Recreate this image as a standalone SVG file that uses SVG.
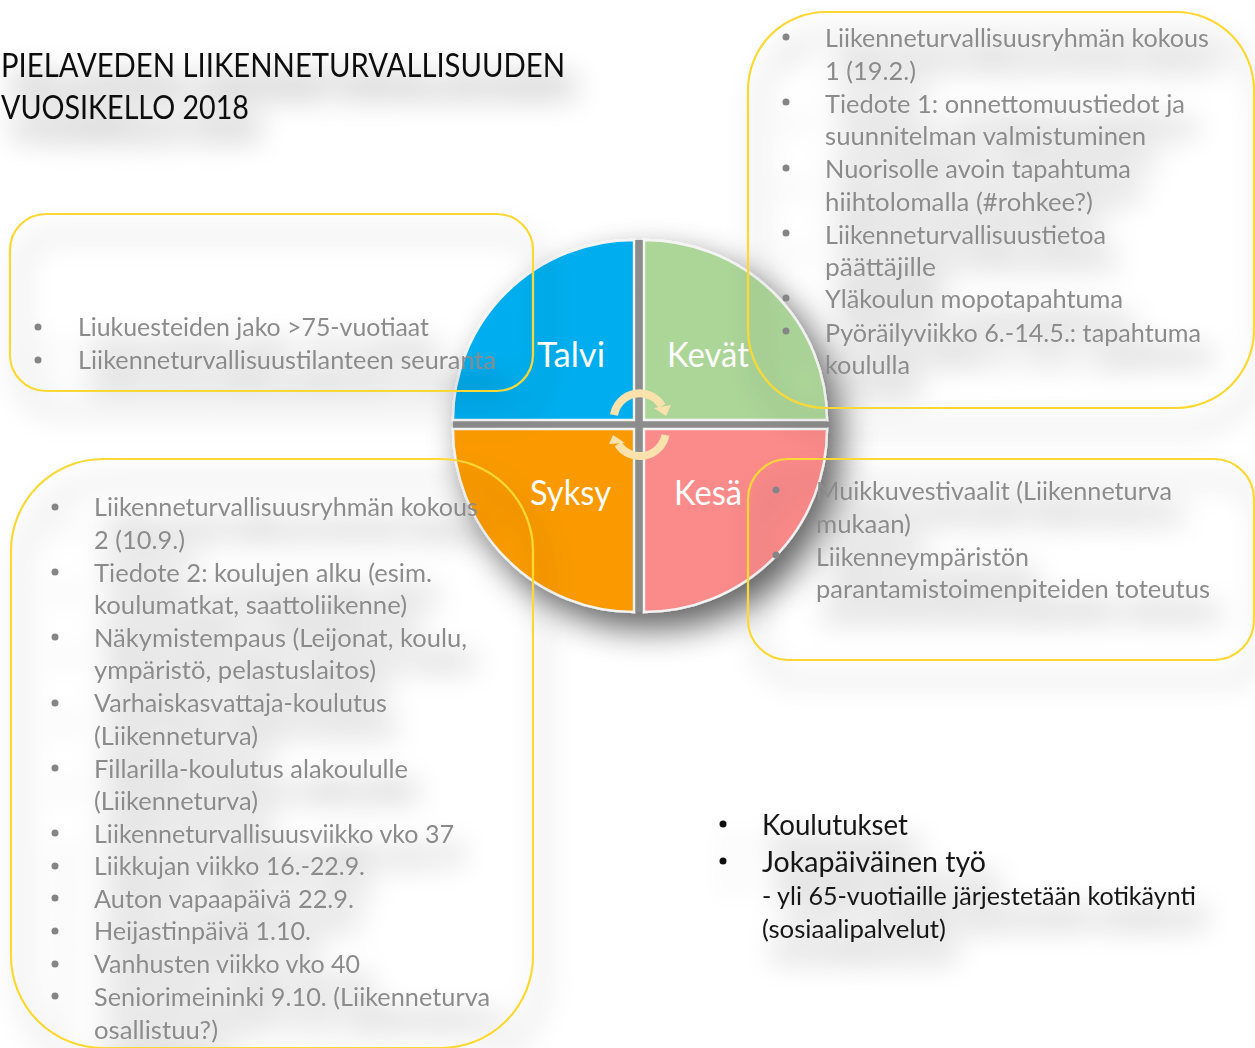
<svg xmlns="http://www.w3.org/2000/svg" width="1255" height="1048" viewBox="0 0 1255 1048">
<style>
text{font-family:"Lato","Liberation Sans",sans-serif}
.t{font-size:25.5px;fill:#8b8b8b}
.d{fill:#858585}
.k{font-size:28px;fill:#161616}
.h{font-size:33.5px;fill:#111}
.s{font-size:34px;fill:#fdfdfd}
.b{fill:none;stroke:#fdd835;stroke-width:2.2}
.q{stroke:#f4f4f4;stroke-width:2.4}
.a{fill:none;stroke:#fbe2ad;stroke-width:8}
.ah{fill:#fbe2ad}
</style>
<defs>
<filter id="ts" filterUnits="userSpaceOnUse" x="-50" y="-50" width="1355" height="1148">
<feGaussianBlur in="SourceAlpha" stdDeviation="15"/>
<feOffset dx="10" dy="21"/>
<feComponentTransfer><feFuncA type="linear" slope="0.55"/></feComponentTransfer>
<feMerge><feMergeNode/><feMergeNode in="SourceGraphic"/></feMerge>
</filter>
<filter id="cs" filterUnits="userSpaceOnUse" x="300" y="100" width="700" height="700">
<feGaussianBlur in="SourceAlpha" stdDeviation="17"/>
<feOffset dx="12" dy="16"/>
<feComponentTransfer><feFuncA type="linear" slope="0.62"/></feComponentTransfer>
<feMerge><feMergeNode/><feMergeNode in="SourceGraphic"/></feMerge>
</filter>
</defs>
<rect width="1255" height="1048" fill="#fff"/>
<g id="wheel" filter="url(#cs)">
<rect x="634" y="240" width="10" height="372" fill="#8c8c8c"/>
<rect x="453" y="420" width="374" height="9" fill="#8c8c8c"/>
<path class="q" fill="#00aeef" d="M634 420V240A181 180 0 0 0 453 420Z"/>
<path class="q" fill="#acd598" d="M644 420V240A183 180 0 0 1 827 420Z"/>
<path class="q" fill="#fa9a00" d="M634 429V612A181 183 0 0 1 453 429Z"/>
<path class="q" fill="#fb8a8a" d="M644 429V612A183 183 0 0 0 827 429Z"/>
</g>
<g id="connectors">
<path class="a" d="M614 415A26 26 0 0 1 662 406"/>
<polygon class="ah" points="671,405 654,408 666,416"/>
<path class="a" d="M665.5 435A26 26 0 0 1 618 444"/>
<polygon class="ah" points="613,435 609,444 625,443"/>
</g>
<g id="title" filter="url(#ts)">
<text class="h" x="1" y="77" textLength="564" lengthAdjust="spacingAndGlyphs">PIELAVEDEN LIIKENNETURVALLISUUDEN</text>
<text class="h" x="1" y="119" textLength="248" lengthAdjust="spacingAndGlyphs">VUOSIKELLO 2018</text>
</g>
<g id="talvi-box" filter="url(#ts)">
<rect class="b" x="10" y="214" width="523" height="177" rx="36"/>
<circle class="d" cx="38" cy="327" r="3.5"/><circle class="d" cx="38" cy="360" r="3.5"/>
<text class="t" x="78" y="336" textLength="351" lengthAdjust="spacingAndGlyphs">Liukuesteiden jako &gt;75-vuotiaat</text>
<text class="t" x="78" y="369" textLength="418" lengthAdjust="spacingAndGlyphs">Liikenneturvallisuustilanteen seuranta</text>
</g>
<g id="kevat-box" filter="url(#ts)">
<rect class="b" x="748" y="12" width="506" height="396" rx="78"/>
<circle class="d" cx="786" cy="37" r="3.5"/><circle class="d" cx="786" cy="102" r="3.5"/><circle class="d" cx="786" cy="168" r="3.5"/><circle class="d" cx="786" cy="233" r="3.5"/><circle class="d" cx="786" cy="298" r="3.5"/><circle class="d" cx="786" cy="331" r="3.5"/>
<text class="t" x="825" y="47" textLength="384" lengthAdjust="spacingAndGlyphs">Liikenneturvallisuusryhmän kokous</text>
<text class="t" x="825" y="80" textLength="91" lengthAdjust="spacingAndGlyphs">1 (19.2.)</text>
<text class="t" x="825" y="113" textLength="360" lengthAdjust="spacingAndGlyphs">Tiedote 1: onnettomuustiedot ja</text>
<text class="t" x="825" y="145" textLength="321" lengthAdjust="spacingAndGlyphs">suunnitelman valmistuminen</text>
<text class="t" x="825" y="178" textLength="306" lengthAdjust="spacingAndGlyphs">Nuorisolle avoin tapahtuma</text>
<text class="t" x="825" y="211" textLength="268" lengthAdjust="spacingAndGlyphs">hiihtolomalla (#rohkee?)</text>
<text class="t" x="825" y="244" textLength="281" lengthAdjust="spacingAndGlyphs">Liikenneturvallisuustietoa</text>
<text class="t" x="825" y="276" textLength="111" lengthAdjust="spacingAndGlyphs">päättäjille</text>
<text class="t" x="825" y="308" textLength="298" lengthAdjust="spacingAndGlyphs">Yläkoulun mopotapahtuma</text>
<text class="t" x="825" y="342" textLength="376" lengthAdjust="spacingAndGlyphs">Pyöräilyviikko 6.-14.5.: tapahtuma</text>
<text class="t" x="825" y="374" textLength="85" lengthAdjust="spacingAndGlyphs">koululla</text>
</g>
<g id="syksy-box" filter="url(#ts)">
<rect class="b" x="11" y="459" width="522" height="589" rx="92"/>
<circle class="d" cx="55" cy="507" r="3.5"/><circle class="d" cx="55" cy="572" r="3.5"/><circle class="d" cx="55" cy="637" r="3.5"/><circle class="d" cx="55" cy="703" r="3.5"/><circle class="d" cx="55" cy="768" r="3.5"/><circle class="d" cx="55" cy="833" r="3.5"/><circle class="d" cx="55" cy="866" r="3.5"/><circle class="d" cx="55" cy="898" r="3.5"/><circle class="d" cx="55" cy="931" r="3.5"/><circle class="d" cx="55" cy="964" r="3.5"/><circle class="d" cx="55" cy="996" r="3.5"/>
<text class="t" x="94" y="516" textLength="384" lengthAdjust="spacingAndGlyphs">Liikenneturvallisuusryhmän kokous</text>
<text class="t" x="94" y="549" textLength="91" lengthAdjust="spacingAndGlyphs">2 (10.9.)</text>
<text class="t" x="94" y="582" textLength="338" lengthAdjust="spacingAndGlyphs">Tiedote 2: koulujen alku (esim.</text>
<text class="t" x="94" y="614" textLength="313" lengthAdjust="spacingAndGlyphs">koulumatkat, saattoliikenne)</text>
<text class="t" x="94" y="647" textLength="373" lengthAdjust="spacingAndGlyphs">Näkymistempaus (Leijonat, koulu,</text>
<text class="t" x="94" y="679" textLength="282" lengthAdjust="spacingAndGlyphs">ympäristö, pelastuslaitos)</text>
<text class="t" x="94" y="712" textLength="293" lengthAdjust="spacingAndGlyphs">Varhaiskasvattaja-koulutus</text>
<text class="t" x="94" y="745" textLength="164" lengthAdjust="spacingAndGlyphs">(Liikenneturva)</text>
<text class="t" x="94" y="778" textLength="314" lengthAdjust="spacingAndGlyphs">Fillarilla-koulutus alakoululle</text>
<text class="t" x="94" y="810" textLength="164" lengthAdjust="spacingAndGlyphs">(Liikenneturva)</text>
<text class="t" x="94" y="843" textLength="360" lengthAdjust="spacingAndGlyphs">Liikenneturvallisuusviikko vko 37</text>
<text class="t" x="94" y="875" textLength="271" lengthAdjust="spacingAndGlyphs">Liikkujan viikko 16.-22.9.</text>
<text class="t" x="94" y="908" textLength="260" lengthAdjust="spacingAndGlyphs">Auton vapaapäivä 22.9.</text>
<text class="t" x="94" y="940" textLength="217" lengthAdjust="spacingAndGlyphs">Heijastinpäivä 1.10.</text>
<text class="t" x="94" y="973" textLength="266" lengthAdjust="spacingAndGlyphs">Vanhusten viikko vko 40</text>
<text class="t" x="94" y="1006" textLength="396" lengthAdjust="spacingAndGlyphs">Seniorimeininki 9.10. (Liikenneturva</text>
<text class="t" x="94" y="1039" textLength="124" lengthAdjust="spacingAndGlyphs">osallistuu?)</text>
</g>
<g id="kesa-box" filter="url(#ts)">
<rect class="b" x="748" y="459" width="506" height="201" rx="40"/>
<circle class="d" cx="776" cy="490" r="3.5"/><circle class="d" cx="776" cy="555" r="3.5"/>
<text class="t" x="816" y="500" textLength="356" lengthAdjust="spacingAndGlyphs">Muikkuvestivaalit (Liikenneturva</text>
<text class="t" x="816" y="533" textLength="95" lengthAdjust="spacingAndGlyphs">mukaan)</text>
<text class="t" x="816" y="566" textLength="213" lengthAdjust="spacingAndGlyphs">Liikenneympäristön</text>
<text class="t" x="816" y="598" textLength="394" lengthAdjust="spacingAndGlyphs">parantamistoimenpiteiden toteutus</text>
</g>
<g id="training" filter="url(#ts)">
<circle cx="723" cy="824" r="3.5" fill="#111"/><circle cx="723" cy="861" r="3.5" fill="#111"/>
<text class="k" x="762" y="835" textLength="146" lengthAdjust="spacingAndGlyphs">Koulutukset</text>
<text class="k" x="762" y="872" textLength="224" lengthAdjust="spacingAndGlyphs">Jokapäiväinen työ</text>
<text class="k" style="font-size:25.5px" x="762" y="905" textLength="434" lengthAdjust="spacingAndGlyphs">- yli 65-vuotiaille järjestetään kotikäynti</text>
<text class="k" style="font-size:25.5px" x="762" y="938" textLength="184" lengthAdjust="spacingAndGlyphs">(sosiaalipalvelut)</text>
</g>
<g id="season-labels">
<text class="s" x="537" y="367" textLength="68" lengthAdjust="spacingAndGlyphs">Talvi</text>
<text class="s" x="667" y="367" textLength="82" lengthAdjust="spacingAndGlyphs">Kevät</text>
<text class="s" x="530" y="505" textLength="81" lengthAdjust="spacingAndGlyphs">Syksy</text>
<text class="s" x="674" y="505" textLength="68" lengthAdjust="spacingAndGlyphs">Kesä</text>
</g>
</svg>
